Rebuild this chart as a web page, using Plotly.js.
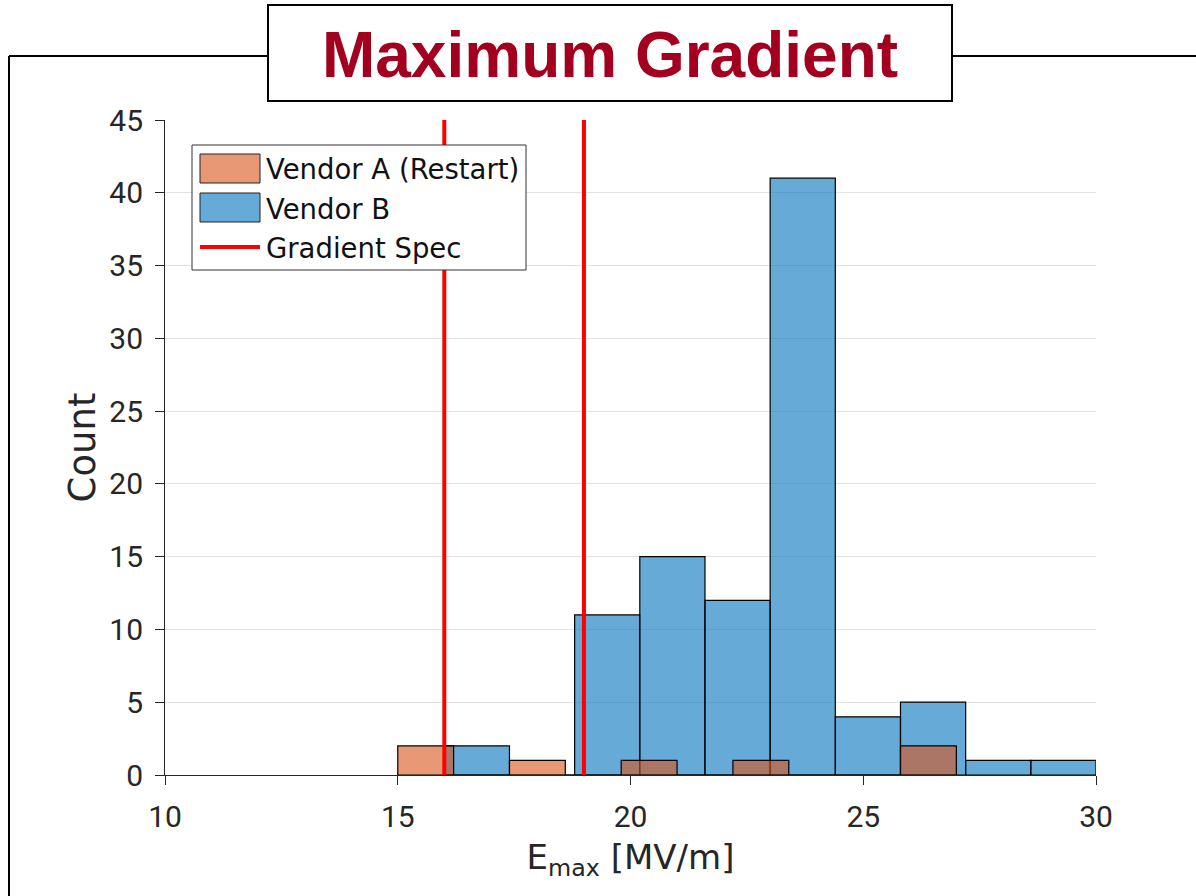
<!DOCTYPE html>
<html>
<head>
<meta charset="utf-8">
<script src="https://cdn.plot.ly/plotly-3.0.1.min.js"></script>
<style>
  html, body { margin: 0; padding: 0; background: #ffffff; }
  #chart { width: 1196px; height: 896px; }
</style>
</head>
<body>
<div id="chart"></div>
<script>
// Histogram bin edges and counts for each vendor (E_max in MV/m)
const vendorAEdges  = [15.0, 16.2, 17.4, 18.6, 19.8, 21.0, 22.2, 23.4, 24.6, 25.8, 27.0];
const vendorACounts = [2, 0, 1, 0, 1, 0, 1, 0, 0, 2];

const vendorBEdges  = [16.0, 17.4, 18.8, 20.2, 21.6, 23.0, 24.4, 25.8, 27.2, 28.6, 30.0];
const vendorBCounts = [2, 0, 11, 15, 12, 41, 4, 5, 1, 1];

// Gradient specification limits
const specValues = [16, 19];

const seriesNames = ["Vendor A (Restart)", "Vendor B", "Gradient Spec"];
const xTicks = [10, 15, 20, 25, 30];
const yTicks = [0, 5, 10, 15, 20, 25, 30, 35, 40, 45];

const W = 1196, H = 896;
const M = { l: 165, r: 100, t: 120, b: 121 };
const plotW = W - M.l - M.r, plotH = H - M.t - M.b;
// pixel -> paper helpers for decorations
const px = x => (x - M.l) / plotW;
const py = y => (H - M.b - y) / plotH;

function binBars(edges, counts) {
  const centers = [], widths = [];
  for (let i = 0; i < counts.length; i++) {
    centers.push((edges[i] + edges[i + 1]) / 2);
    widths.push(edges[i + 1] - edges[i]);
  }
  return { centers, widths };
}

const a = binBars(vendorAEdges, vendorACounts);
const b = binBars(vendorBEdges, vendorBCounts);

const colA = "rgba(217,83,25,0.6)";
const colB = "rgba(0,114,189,0.6)";
const colSpec = "#ff0000";

const traces = [
  {
    type: "bar", name: seriesNames[1], x: b.centers, y: vendorBCounts, width: b.widths,
    marker: { color: colB, line: { color: "#000000", width: 1.2 } },
    showlegend: false, hoverinfo: "x+y"
  },
  {
    type: "bar", name: seriesNames[0], x: a.centers, y: vendorACounts, width: a.widths,
    marker: { color: colA, line: { color: "#000000", width: 1.2 } },
    showlegend: false, hoverinfo: "x+y"
  }
];
specValues.forEach(v => {
  traces.push({
    type: "scatter", mode: "lines", name: seriesNames[2],
    x: [v, v], y: [yTicks[0], yTicks[yTicks.length - 1]],
    line: { color: colSpec, width: 4 }, showlegend: false, cliponaxis: false
  });
});

const axisColor = "#262626";
const tickFont = { family: "Roboto", size: 30, color: axisColor };

// legend drawn as a boxed key in the upper left of the axes
const legendShapes = [
  { type: "rect", xref: "paper", yref: "paper", x0: px(192), x1: px(526), y0: py(270), y1: py(145),
    line: { color: "#333333", width: 1 }, fillcolor: "#ffffff", layer: "above" },
  { type: "rect", xref: "paper", yref: "paper", x0: px(200), x1: px(260), y0: py(183), y1: py(154),
    line: { color: "#222222", width: 1 }, fillcolor: colA, layer: "above" },
  { type: "rect", xref: "paper", yref: "paper", x0: px(200), x1: px(260), y0: py(222), y1: py(193),
    line: { color: "#222222", width: 1 }, fillcolor: colB, layer: "above" },
  { type: "line", xref: "paper", yref: "paper", x0: px(200), x1: px(260), y0: py(247), y1: py(247),
    line: { color: colSpec, width: 4 }, layer: "above" }
];
const legendRows = [169, 209, 248];
const legendNotes = seriesNames.map((n, i) => ({
  xref: "paper", yref: "paper", x: px(264), y: py(legendRows[i]),
  xanchor: "left", yanchor: "middle", showarrow: false, text: n,
  font: { family: "DejaVu Sans", size: 27.5, color: "#111111" }
}));

// frame around the page with the title box breaking the top edge
const frameShapes = [
  { type: "rect", xref: "paper", yref: "paper", x0: px(268), x1: px(952), y0: py(101), y1: py(5),
    line: { color: "#000000", width: 2 }, fillcolor: "#ffffff" },
  { type: "line", xref: "paper", yref: "paper", x0: px(9), x1: px(268), y0: py(56), y1: py(56),
    line: { color: "#000000", width: 2 } },
  { type: "line", xref: "paper", yref: "paper", x0: px(952), x1: px(1197), y0: py(56), y1: py(56),
    line: { color: "#000000", width: 2 } },
  { type: "line", xref: "paper", yref: "paper", x0: px(9), x1: px(9), y0: py(56), y1: py(897),
    line: { color: "#000000", width: 2 } }
];

const layout = {
  width: W, height: H,
  margin: M,
  paper_bgcolor: "#ffffff", plot_bgcolor: "#ffffff",
  barmode: "overlay", bargap: 0,
  showlegend: false,
  title: {
    text: "<b>Maximum Gradient</b>",
    font: { family: "Liberation Sans", size: 64, color: "#a3001f" },
    xref: "paper", x: 0.5 * (px(268) + px(952)), xanchor: "center",
    yref: "container", y: 1 - 55 / H, yanchor: "middle"
  },
  xaxis: {
    range: [xTicks[0], xTicks[xTicks.length - 1]],
    tickvals: xTicks, ticks: "outside", ticklen: 9, tickcolor: axisColor, tickwidth: 1,
    ticklabelstandoff: 6,
    showline: true, linecolor: axisColor, linewidth: 1,
    showgrid: false, zeroline: false, tickfont: tickFont,
    title: { text: "E<sub>max</sub> [MV/m]", standoff: 12,
             font: { family: "DejaVu Sans", size: 34, color: axisColor } }
  },
  yaxis: {
    range: [yTicks[0], yTicks[yTicks.length - 1]],
    tickvals: yTicks, ticks: "outside", ticklen: 9, tickcolor: axisColor, tickwidth: 1,
    ticklabelstandoff: 6,
    showline: true, linecolor: axisColor, linewidth: 1,
    showgrid: true, gridcolor: "#e3e3e3", gridwidth: 1, zeroline: false, tickfont: tickFont,
    title: { text: "Count", standoff: 2,
             font: { family: "DejaVu Sans", size: 37, color: axisColor } }
  },
  shapes: frameShapes.concat(legendShapes),
  annotations: legendNotes
};

Plotly.newPlot("chart", traces, layout, { displayModeBar: false, staticPlot: true });
</script>
</body>
</html>
